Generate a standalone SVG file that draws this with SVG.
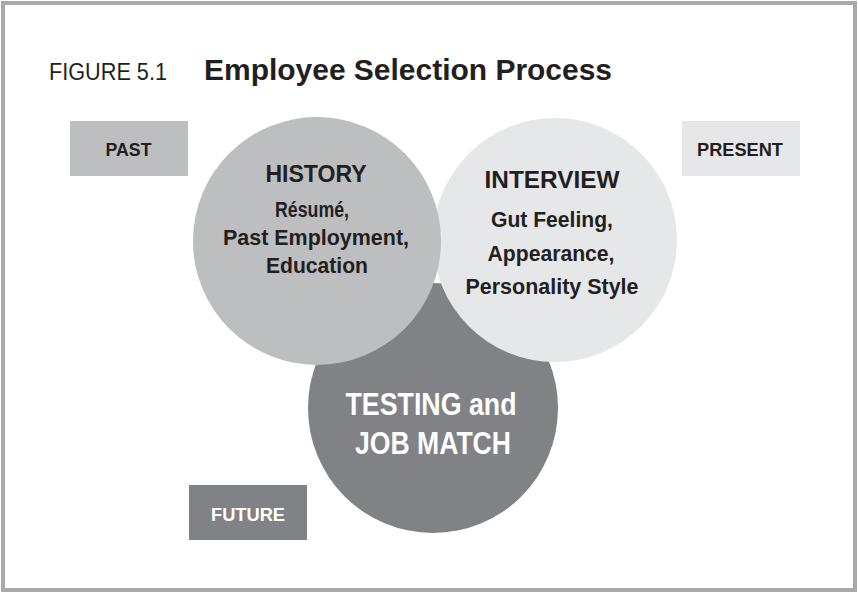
<svg xmlns="http://www.w3.org/2000/svg" width="858" height="592" viewBox="0 0 858 592">
<style>
text { font-family: "Liberation Sans", Arial, sans-serif; font-weight: bold; fill: #231f20; text-anchor: middle; }
.title { font-size: 30px; text-anchor: start; }
.fig { font-size: 23px; font-weight: normal; text-anchor: start; }
.box { font-size: 19px; }
.head { font-size: 24px; }
.body { font-size: 22px; }
.big { font-size: 32px; fill: #ffffff; }
.white { fill: #ffffff; }
.c-light { fill: #e6e7e8; }
.c-mid { fill: #bcbec0; }
.c-dark { fill: #808285; }
</style>
<rect x="0" y="0" width="858" height="592" fill="#ffffff"/>
<rect x="3" y="3" width="852" height="587" fill="none" stroke="#a7a9ac" stroke-width="4"/>
<g id="title">
<text class="fig" x="49" y="80" textLength="118" lengthAdjust="spacingAndGlyphs">FIGURE 5.1</text>
<text class="title" x="204" y="80" textLength="408" lengthAdjust="spacingAndGlyphs">Employee Selection Process</text>
</g>
<g id="testing">
<circle class="c-dark" cx="433" cy="408" r="125"/>
<text class="big" x="431" y="415" textLength="171" lengthAdjust="spacingAndGlyphs">TESTING and</text>
<text class="big" x="433" y="454" textLength="156" lengthAdjust="spacingAndGlyphs">JOB MATCH</text>
</g>
<g id="interview">
<circle class="c-light" cx="555" cy="240" r="122"/>
<text class="head" x="552" y="188" textLength="135" lengthAdjust="spacingAndGlyphs">INTERVIEW</text>
<text class="body" x="552" y="227" textLength="122" lengthAdjust="spacingAndGlyphs">Gut Feeling,</text>
<text class="body" x="551" y="261" textLength="127" lengthAdjust="spacingAndGlyphs">Appearance,</text>
<text class="body" x="552" y="294" textLength="173" lengthAdjust="spacingAndGlyphs">Personality Style</text>
</g>
<g id="history">
<circle class="c-mid" cx="317" cy="241" r="124"/>
<text class="head" x="316" y="182" textLength="101" lengthAdjust="spacingAndGlyphs">HISTORY</text>
<text class="body" x="312" y="217" textLength="74" lengthAdjust="spacingAndGlyphs">Résumé,</text>
<text class="body" x="316" y="245" textLength="186" lengthAdjust="spacingAndGlyphs">Past Employment,</text>
<text class="body" x="317" y="273" textLength="102" lengthAdjust="spacingAndGlyphs">Education</text>
</g>
<g id="past">
<rect class="c-mid" x="70" y="121" width="118" height="55"/>
<text class="box" x="128.5" y="156" textLength="46" lengthAdjust="spacingAndGlyphs">PAST</text>
</g>
<g id="present">
<rect class="c-light" x="682" y="121" width="118" height="55"/>
<text class="box" x="740" y="156" textLength="86" lengthAdjust="spacingAndGlyphs">PRESENT</text>
</g>
<g id="future">
<rect class="c-dark" x="189" y="485" width="118" height="55"/>
<text class="box white" x="248" y="521" textLength="74" lengthAdjust="spacingAndGlyphs">FUTURE</text>
</g>
<g id="connectors"/>
</svg>
